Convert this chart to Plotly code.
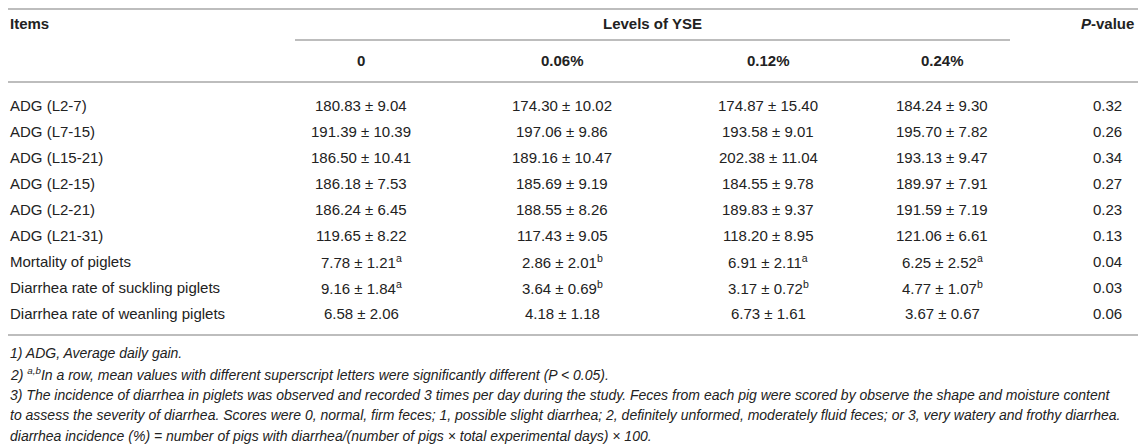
import plotly.graph_objects as go

# table contents
items = ["ADG (L2-7)", "ADG (L7-15)", "ADG (L15-21)", "ADG (L2-15)", "ADG (L2-21)",
         "ADG (L21-31)", "Mortality of piglets", "Diarrhea rate of suckling piglets",
         "Diarrhea rate of weanling piglets"]
levels = ["0", "0.06%", "0.12%", "0.24%"]

mean_0 = [180.83, 191.39, 186.50, 186.18, 186.24, 119.65, 7.78, 9.16, 6.58]
sd_0 = [9.04, 10.39, 10.41, 7.53, 6.45, 8.22, 1.21, 1.84, 2.06]
sup_0 = ["", "", "", "", "", "", "a", "a", ""]

mean_006 = [174.30, 197.06, 189.16, 185.69, 188.55, 117.43, 2.86, 3.64, 4.18]
sd_006 = [10.02, 9.86, 10.47, 9.19, 8.26, 9.05, 2.01, 0.69, 1.18]
sup_006 = ["", "", "", "", "", "", "b", "b", ""]

mean_012 = [174.87, 193.58, 202.38, 184.55, 189.83, 118.20, 6.91, 3.17, 6.73]
sd_012 = [15.40, 9.01, 11.04, 9.78, 9.37, 8.95, 2.11, 0.72, 1.61]
sup_012 = ["", "", "", "", "", "", "a", "b", ""]

mean_024 = [184.24, 195.70, 193.13, 189.97, 191.59, 121.06, 6.25, 4.77, 3.67]
sd_024 = [9.30, 7.82, 9.47, 7.91, 7.19, 6.61, 2.52, 1.07, 0.67]
sup_024 = ["", "", "", "", "", "", "a", "b", ""]

p_values = [0.32, 0.26, 0.34, 0.27, 0.23, 0.13, 0.04, 0.03, 0.06]

footnotes = [
    "1) ADG, Average daily gain.",
    "2) <sup>a,b</sup>In a row, mean values with different superscript letters were significantly different (P < 0.05).",
    "3) The incidence of diarrhea in piglets was observed and recorded 3 times per day during the study. Feces from each pig were scored by observe the shape and moisture content",
    "to assess the severity of diarrhea. Scores were 0, normal, firm feces; 1, possible slight diarrhea; 2, definitely unformed, moderately fluid feces; or 3, very watery and frothy diarrhea.",
    "diarrhea incidence (%) = number of pigs with diarrhea/(number of pigs × total experimental days) × 100.",
]

# page size; the page body keeps an 8px margin, so the figure is drawn
# 8px smaller and the axes are shifted so that coordinates are page pixels
W, H = 1146, 446
OFF = 8
FONT = "Liberation Sans, Arial, Helvetica, sans-serif"
TXT = "#222222"
LINE = "#bdbdbd"
col_x = [361, 562, 768, 942]
p_x = 1107
row_y0, row_dy = 105, 26

fig = go.Figure()
ann = []
shapes = []


def txt(x, y, s, anchor="center", size=15, bold=False, italic=False):
    if bold:
        s = "<b>" + s + "</b>"
    if italic:
        s = "<i>" + s + "</i>"
    ann.append(dict(x=x, y=y, xref="x", yref="y", text=s, showarrow=False,
                    xanchor=anchor, yanchor="middle",
                    font=dict(family=FONT, size=size, color=TXT)))


def hline(x0, x1, y):
    shapes.append(dict(type="line", xref="x", yref="y", x0=x0, x1=x1, y0=y, y1=y,
                       line=dict(color=LINE, width=2)))


# header
hline(OFF, W, OFF + 1)
txt(OFF, 23, "Items", anchor="left", bold=True)
txt((295 + 1010) / 2, 23, "Levels of YSE", bold=True)
txt(p_x, 23, "<i>P</i>-value", bold=True)
hline(295, 1010, 40)
for cx, lv in zip(col_x, levels):
    txt(cx, 60, lv, bold=True)
hline(OFF, W, 82)

# body
cols = [(mean_0, sd_0, sup_0), (mean_006, sd_006, sup_006),
        (mean_012, sd_012, sup_012), (mean_024, sd_024, sup_024)]
for i, item in enumerate(items):
    y = row_y0 + i * row_dy
    txt(OFF, y, item, anchor="left")
    for cx, (means, sds, sups) in zip(col_x, cols):
        label = f"{means[i]:.2f} ± {sds[i]:.2f}"
        if sups[i]:
            label += f"<sup>{sups[i]}</sup>"
        txt(cx, y, label)
    txt(p_x, y, f"{p_values[i]:.2f}")
hline(OFF, W, 335)

# footnotes
for j, note in enumerate(footnotes):
    txt(OFF, 353 + j * 20.8, note, anchor="left", size=14, italic=True)

fig.update_layout(
    width=W - OFF, height=H - OFF,
    margin=dict(l=0, r=0, t=0, b=0),
    paper_bgcolor="white", plot_bgcolor="white",
    xaxis=dict(range=[OFF, W], visible=False, fixedrange=True),
    yaxis=dict(range=[H, OFF], visible=False, fixedrange=True),
    annotations=ann, shapes=shapes, showlegend=False,
)
fig.write_html("out.html")
